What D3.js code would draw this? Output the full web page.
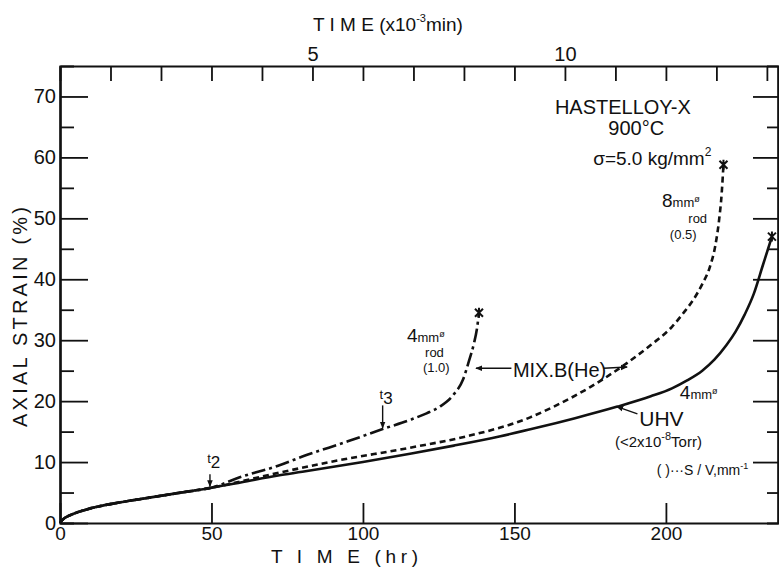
<!DOCTYPE html>
<html>
<head>
<meta charset="utf-8">
<script src="https://cdn.jsdelivr.net/npm/d3@7"></script>
<style>
body { margin: 0; background: #fff; }
svg { display: block; }
text { font-family: "Liberation Sans", Arial, sans-serif; fill: #111; }
</style>
</head>
<body>
<script>
// creep curves, Hastelloy-X 900C (time in hr, strain in %)
let uhvTime   = [0, 1, 3, 6, 10, 20, 30, 40, 50, 60, 72, 80, 100, 116, 130, 145, 158, 170, 184, 195, 202, 207, 212, 216, 220, 223, 226, 229, 232, 235]
let uhvStrain = [0, 0.6, 1.2, 1.8, 2.4, 3.4, 4.2, 5.0, 5.8, 6.7, 7.8, 8.4, 10.0, 11.4, 12.7, 14.2, 15.7, 17.2, 19.1, 20.8, 22.1, 23.4, 25.0, 26.8, 29.2, 31.4, 34.2, 37.6, 42.3, 47.0]

let rod8Time   = [0, 1, 3, 6, 10, 20, 30, 40, 50, 70, 90, 116, 134, 155, 163, 175, 187, 195, 202, 206, 209, 212, 214.5, 216.3, 217.5, 218.4, 219]
let rod8Strain = [0, 0.6, 1.2, 1.8, 2.4, 3.4, 4.2, 5.0, 5.8, 8.0, 10.1, 12.4, 14.2, 17.3, 19.1, 22.3, 26.2, 29.2, 32.2, 34.6, 36.6, 39.2, 42.0, 45.5, 49.5, 54.0, 58.8]

let rod4Time   = [0, 1, 3, 6, 10, 20, 30, 40, 50, 60, 72, 80, 95, 107, 116, 121, 125.4, 129.8, 133, 135, 136.6, 137.6, 138.3]
let rod4Strain = [0, 0.6, 1.2, 1.8, 2.4, 3.4, 4.2, 5.0, 5.8, 7.6, 9.4, 10.9, 13.4, 15.5, 17.0, 18.0, 19.1, 21.0, 23.5, 26.6, 29.4, 31.8, 34.5]

let yMajor = [0, 10, 20, 30, 40, 50, 60, 70]
let yMinor = [5, 15, 25, 35, 45, 55, 65]
let xMajor = [0, 50, 100, 150, 200]
let topTicks = d3.range(0, 15)        // x10^3 min
let topLabels = [5, 10]

let width = 779
let height = 568

let svg = d3.select('body').append('svg')
    .attr('width', width)
    .attr('height', height)

let x = d3.scaleLinear().domain([0, 237]).range([60, 778])
let xTop = d3.scaleLinear().domain([0, 237 * 60 / 1000]).range([60, 778])   // hr -> x10^3 min
let y = d3.scaleLinear().domain([0, 75]).range([523, 66])

function styleAxis(g, fs) {
    g.select('.domain').attr('stroke', '#111').attr('stroke-width', 2.2)
    g.selectAll('.tick line').attr('stroke', '#111').attr('stroke-width', 1.8)
    g.selectAll('.tick text').attr('fill', '#111').style('font-size', fs + 'px')
}

// left axis
svg.append('g').attr('transform', 'translate(60,0)')
    .call(d3.axisLeft(y).tickValues(yMajor).tickSize(-28).tickSizeOuter(0).tickPadding(4))
    .call(g => styleAxis(g, 20))
svg.append('g').attr('transform', 'translate(60,0)')
    .call(d3.axisLeft(y).tickValues(yMinor).tickSize(-14).tickFormat(''))
    .call(g => styleAxis(g, 20))

// right axis
svg.append('g').attr('transform', 'translate(778,0)')
    .call(d3.axisRight(y).tickValues(yMajor.slice(1)).tickSize(-25).tickSizeOuter(0).tickFormat(''))
    .call(g => styleAxis(g, 20))
svg.append('g').attr('transform', 'translate(778,0)')
    .call(d3.axisRight(y).tickValues(yMinor).tickSize(-11).tickFormat(''))
    .call(g => styleAxis(g, 20))

// bottom axis
svg.append('g').attr('transform', 'translate(0,523)')
    .call(d3.axisBottom(x).tickValues(xMajor).tickSize(-20).tickSizeOuter(0).tickPadding(3))
    .call(g => styleAxis(g, 19))

// top axis (x10^3 min)
svg.append('g').attr('transform', 'translate(0,66)')
    .call(d3.axisTop(xTop).tickValues(topTicks).tickSize(-15).tickSizeOuter(0).tickPadding(5)
        .tickFormat(d => topLabels.includes(d) ? d : ''))
    .call(g => styleAxis(g, 20))

// curves
let line = d3.line()
    .x(d => x(d[0]))
    .y(d => y(d[1]))
    .curve(d3.curveMonotoneX)

let uhv = uhvTime.map((t, i) => [t, uhvStrain[i]])
let rod8 = rod8Time.map((t, i) => [t, rod8Strain[i]])
let rod4 = rod4Time.map((t, i) => [t, rod4Strain[i]])

svg.append('path').datum(rod8)
    .attr('d', line).attr('fill', 'none').attr('stroke', '#111')
    .attr('stroke-width', 2.6).attr('stroke-dasharray', '6,4')
svg.append('path').datum(rod4)
    .attr('d', line).attr('fill', 'none').attr('stroke', '#111')
    .attr('stroke-width', 2.6).attr('stroke-dasharray', '14,4,3,4')
svg.append('path').datum(uhv)
    .attr('d', line).attr('fill', 'none').attr('stroke', '#111')
    .attr('stroke-width', 2.6)

// rupture marks
let ends = [uhv[uhv.length - 1], rod8[rod8.length - 1], rod4[rod4.length - 1]]
svg.selectAll('.endmark').data(ends).enter().append('path')
    .attr('class', 'endmark')
    .attr('transform', d => 'translate(' + x(d[0]) + ',' + y(d[1]) + ')')
    .attr('d', 'M-4,-4L4,4M4,-4L-4,4M0,-5L0,5')
    .attr('stroke', '#111').attr('stroke-width', 2)

// arrows
svg.append('defs').append('marker')
    .attr('id', 'ah').attr('viewBox', '0 0 10 10').attr('refX', 9).attr('refY', 5)
    .attr('markerWidth', 7).attr('markerHeight', 7).attr('orient', 'auto-start-reverse')
    .attr('markerUnits', 'userSpaceOnUse')
    .append('path').attr('d', 'M0,1L10,5L0,9Z').attr('fill', '#111')

function arrow(t1, s1, t2, s2) {
    svg.append('line')
        .attr('x1', x(t1)).attr('y1', y(s1)).attr('x2', x(t2)).attr('y2', y(s2))
        .attr('stroke', '#111').attr('stroke-width', 1.4)
        .attr('marker-end', 'url(#ah)')
}

arrow(49.5, 8.0, 49.5, 6.0)          // t2
arrow(106.5, 19.3, 106.5, 15.6)      // t3
arrow(149, 25.4, 137.3, 25.4)        // MIX.B -> 4mm rod
arrow(179.5, 25.4, 187.2, 25.6)      // MIX.B -> 8mm rod
arrow(190.6, 17.9, 183.8, 19.1)      // UHV

function label(t, s, anchor, parts) {
    let tx = svg.append('text')
        .attr('x', x(t)).attr('y', y(s))
        .attr('text-anchor', anchor)
    parts.forEach(p => {
        let ts = tx.append('tspan').text(p.text).style('font-size', (p.size || 20) + 'px')
        if (p.dy) ts.attr('dy', p.dy)
        if (p.dx) ts.attr('dx', p.dx)
    })
    return tx
}

label(185.8, 67.2, 'middle', [{ text: 'HASTELLOY-X', size: 20 }])
label(190.2, 63.6, 'middle', [{ text: '900°C', size: 20 }])
label(176, 58.7, 'start', [{ text: 'σ=5.0 kg/mm', size: 19 }, { text: '2', size: 12, dy: -9 }])

label(198.7, 51.9, 'start', [{ text: '8', size: 19 }, { text: 'mm', size: 13 }, { text: 'ø', size: 9, dy: -5 }])
label(207.4, 49.2, 'start', [{ text: 'rod', size: 13 }])
label(201.3, 46.6, 'start', [{ text: '(0.5)', size: 13 }])

label(114.5, 29.7, 'start', [{ text: '4', size: 19 }, { text: 'mm', size: 13 }, { text: 'ø', size: 9, dy: -5 }])
label(120.5, 27.2, 'start', [{ text: 'rod', size: 13 }])
label(119.8, 24.7, 'start', [{ text: '(1.0)', size: 13 }])

label(149.5, 24.0, 'start', [{ text: 'MIX.B(He)', size: 20 }])

label(204.6, 20.3, 'start', [{ text: '4', size: 19 }, { text: 'mm', size: 13 }, { text: 'ø', size: 9, dy: -5 }])
label(191.2, 15.9, 'start', [{ text: 'UHV', size: 21 }])
label(183.2, 12.4, 'start', [{ text: '(<2x10', size: 15 }, { text: '-8', size: 11, dy: -7 }, { text: 'Torr)', size: 15, dy: 7 }])
label(197, 7.9, 'start', [{ text: '(    )···S / V,mm', size: 14 }, { text: '-1', size: 9, dy: -6 }])

label(48.6, 9.8, 'start', [{ text: 't', size: 13 }, { text: '2', size: 17, dy: 5 }])
label(105.5, 20.4, 'start', [{ text: 't', size: 13 }, { text: '3', size: 17, dy: 5 }])

// axis titles
svg.append('text')
    .attr('x', 271).attr('y', 563)
    .attr('textLength', 147).attr('lengthAdjust', 'spacing')
    .style('font-size', '19px')
    .text('T I M E  (hr)')

let topTitle = svg.append('text').attr('x', 313).attr('y', 31).style('font-size', '19px')
topTitle.append('tspan').text('T I M E  (x10')
topTitle.append('tspan').text('-3').style('font-size', '11px').attr('dy', -9)
topTitle.append('tspan').text('min)').attr('dy', 9)

svg.append('text')
    .attr('transform', 'translate(27,317) rotate(-90)')
    .attr('text-anchor', 'middle')
    .attr('textLength', 220).attr('lengthAdjust', 'spacing')
    .style('font-size', '20px')
    .text('AXIAL STRAIN (%)')
</script>
</body>
</html>
